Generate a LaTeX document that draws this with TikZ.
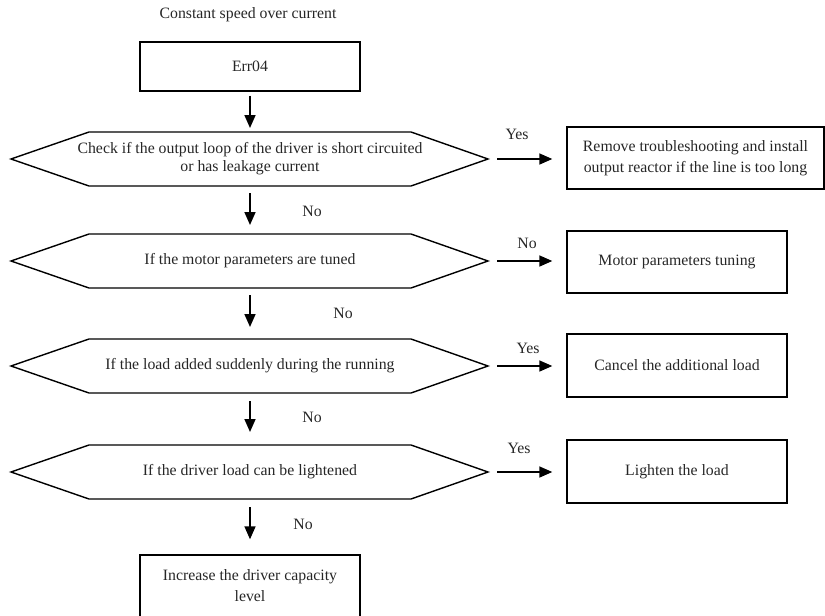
\documentclass[tikz,border=0pt]{standalone}
\usepackage{fontspec}
\setmainfont{Liberation Serif}
\usetikzlibrary{arrows.meta}
\begin{document}
\begin{tikzpicture}[x=1pt,y=-1pt,
  every node/.style={font=\fontsize{15.8}{21}\selectfont, text=black!85},
  box/.style={draw, line width=1.4pt, minimum width=220pt, minimum height=62pt, align=center, inner sep=0pt},
  hexin/.style={align=center, inner sep=0pt},
  hexline/.style={draw, line width=1.4pt, line join=miter},
  arr/.style={line width=1.6pt, -{Triangle[length=13pt,width=11pt]}},
  lbl/.style={inner sep=0pt}
]
\useasboundingbox (0,0) rectangle (825,616);

\node[lbl] (title) at (248,15) {Constant speed over current};
\node[box, minimum height=49pt] (err) at (250,66.5) {Err04};

\node[hexin, font=\fontsize{15.8}{18}\selectfont] (h1) at (250,159) {Check if the output loop of the driver is short circuited\\or has leakage current};
\node[hexin] (h2) at (250,261) {If the motor parameters are tuned};
\node[hexin] (h3) at (250,366) {If the load added suddenly during the running};
\node[hexin] (h4) at (250,472) {If the driver load can be lightened};

\foreach \h in {h1,h2,h3,h4}{
  \draw[hexline] ([shift={(-161,-27)}]\h.center) -- ([shift={(161,-27)}]\h.center)
     -- ([shift={(238,0)}]\h.center) -- ([shift={(161,27)}]\h.center)
     -- ([shift={(-161,27)}]\h.center) -- ([shift={(-239,0)}]\h.center) -- cycle;
  \coordinate (\h r) at ([shift={(238,0)}]\h.center);
  \coordinate (\h t) at ([shift={(0,-27)}]\h.center);
  \coordinate (\h b) at ([shift={(0,27)}]\h.center);
}

\node[box, minimum height=62pt] (fin) at (250,586) {Increase the driver capacity\\level};

\node[box, minimum width=257pt] (r1) at (695.5,158) {Remove troubleshooting and install\\output reactor if the line is too long};
\node[box] (r2) at (677,262) {Motor parameters tuning};
\node[box, minimum height=63pt] (r3) at (677,365.5) {Cancel the additional load};
\node[box, minimum height=63pt] (r4) at (677,471.5) {Lighten the load};

% vertical arrows
\draw[arr, shorten <=4pt, shorten >=4pt] (err.south) -- (h1t);
\draw[arr, shorten <=7pt, shorten >=9pt] (h1b) -- (h2t);
\draw[arr, shorten <=7pt, shorten >=12pt] (h2b) -- (h3t);
\draw[arr, shorten <=8pt, shorten >=13pt] (h3b) -- (h4t);
\draw[arr, shorten <=8pt, shorten >=15pt] (h4b) -- (fin.north);

% horizontal arrows
\draw[arr, shorten <=9pt, shorten >=14pt] (h1r) -- (r1.west |- h1r);
\draw[arr, shorten <=9pt, shorten >=14pt] (h2r) -- (r2.west |- h2r);
\draw[arr, shorten <=9pt, shorten >=14pt] (h3r) -- (r3.west |- h3r);
\draw[arr, shorten <=9pt, shorten >=14pt] (h4r) -- (r4.west |- h4r);

% labels
\node[lbl] (n1) at (312,211) {No};
\node[lbl] (n2) at (343,313) {No};
\node[lbl] (n3) at (312,417) {No};
\node[lbl] (n4) at (303,524) {No};
\node[lbl] (y1) at (517,134) {Yes};
\node[lbl] (n5) at (527,243) {No};
\node[lbl] (y3) at (528,348) {Yes};
\node[lbl] (y4) at (519,448) {Yes};
\end{tikzpicture}
\end{document}
